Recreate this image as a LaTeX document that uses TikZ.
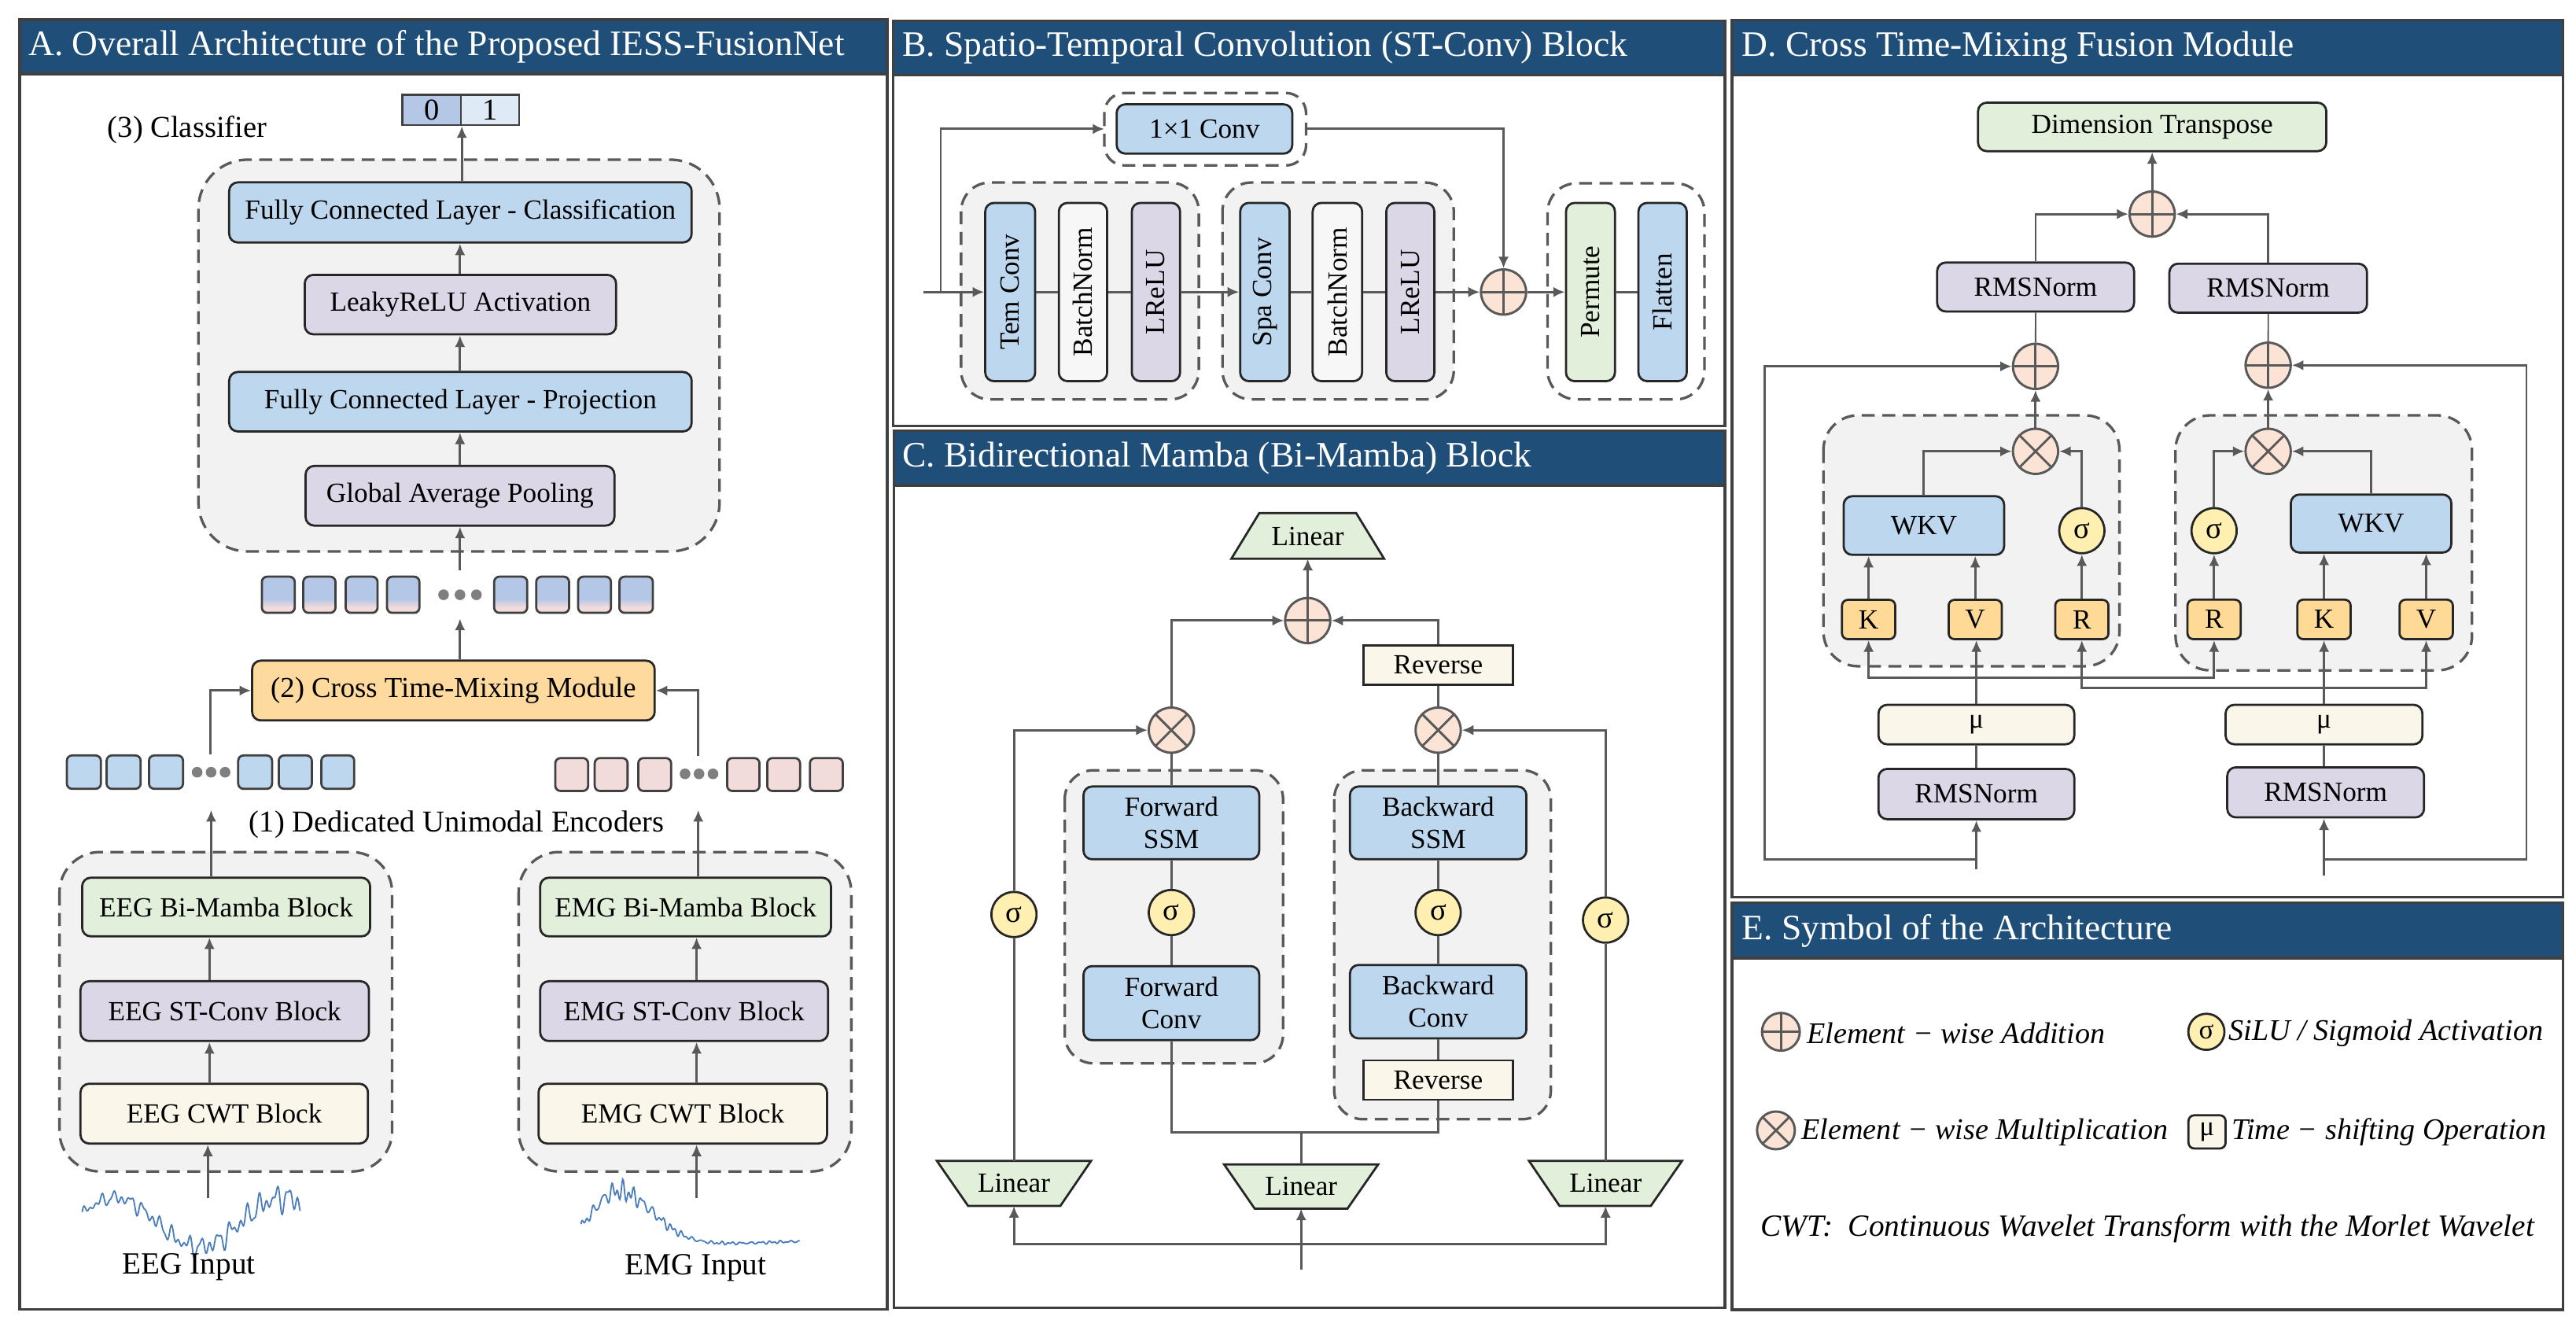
\documentclass[tikz,border=0pt]{standalone}
\usepackage{fontspec}
\setmainfont{Liberation Serif}
\usetikzlibrary{arrows.meta,calc}
\definecolor{hdrblue}{HTML}{1F4E79}
\definecolor{cblue}{HTML}{BDD7EE}
\definecolor{cblue2}{HTML}{B4C7E7}
\definecolor{cblue3}{HTML}{DEEBF7}
\definecolor{clav}{HTML}{DCD7E6}
\definecolor{cgreen}{HTML}{E2EFDA}
\definecolor{ccream}{HTML}{FAF6EA}
\definecolor{corange}{HTML}{FFDA9E}
\definecolor{ckvr}{HTML}{FFD996}
\definecolor{cpink}{HTML}{F2DCDB}
\definecolor{cpeach}{HTML}{FBE3D5}
\definecolor{csig}{HTML}{FFEFB0}
\definecolor{cgrayfill}{HTML}{F2F2F2}
\definecolor{carr}{HTML}{595959}
\definecolor{cline}{HTML}{262626}
\definecolor{cpanel}{HTML}{404040}
\definecolor{cwave}{HTML}{4A7EBB}
\definecolor{cdot}{HTML}{7F7F7F}
\definecolor{cbn}{HTML}{F7F7F7}
\pgfdeclareverticalshading{tokshade}{100bp}{color(0bp)=(cpink); color(25bp)=(cpink); color(33bp)=(cpink); color(44bp)=(cblue2); color(100bp)=(cblue2)}
\newcommand\bx[7]{%
  \pgfmathsetmacro\bxw{(#5-#3)*0.02}%
  \pgfmathsetmacro\bxh{(#6-#4)*0.02}%
  \node[#1,minimum width=\bxw cm,minimum height=\bxh cm,inner sep=0pt] (#2) at ({(#3+#5)/2},{(#4+#6)/2}) {#7};}
\begin{document}
\begin{tikzpicture}[x=0.02cm,y=-0.02cm,
  mf/.style={font=\fontsize{9.6}{11.2}\selectfont},
  blk/.style={draw=cline, line width=0.75pt, rounded corners=3pt, mf, align=center},
  cellst/.style={draw=cpanel, line width=0.7pt, font=\fontsize{10.5}{12}\selectfont},
  dbox/.style={draw=carr, line width=0.9pt, dash pattern=on 4.5pt off 2.6pt, fill=cgrayfill, rounded corners=12pt},
  arr/.style={draw=carr, line width=0.8pt, -{Latex[length=4pt,width=3.6pt]}},
  ln/.style={draw=carr, line width=0.8pt},
  panel/.style={draw=cpanel, line width=0.9pt},
  hdr/.style={draw=cpanel, line width=0.9pt, fill=hdrblue},
  hdrt/.style={text=white, font=\fontsize{12.4}{14}\selectfont, anchor=west, inner sep=0pt},
  lbl/.style={font=\fontsize{10.5}{12}\selectfont, inner sep=0pt},
  addop/.style={circle, draw=carr, fill=cpeach, line width=0.8pt, minimum size=0.55cm, inner sep=0pt,
    path picture={\draw[carr, line width=0.8pt] (path picture bounding box.north) -- (path picture bounding box.south) (path picture bounding box.west) -- (path picture bounding box.east);}},
  mulop/.style={circle, draw=carr, fill=cpeach, line width=0.8pt, minimum size=0.55cm, inner sep=0pt,
    path picture={\draw[carr, line width=0.8pt] ($(path picture bounding box.center)!0.7071!(path picture bounding box.north east)$) -- ($(path picture bounding box.center)!0.7071!(path picture bounding box.south west)$) ($(path picture bounding box.center)!0.7071!(path picture bounding box.north west)$) -- ($(path picture bounding box.center)!0.7071!(path picture bounding box.south east)$);}},
  sigc/.style={circle, draw=cline, fill=csig, line width=0.75pt, minimum size=0.55cm, inner sep=0pt, font=\fontsize{10.5}{12}\selectfont},
  tokb/.style={draw=cpanel, line width=0.75pt, rounded corners=1.8pt},
  legt/.style={font=\itshape\fontsize{10.4}{12}\selectfont, anchor=west, inner sep=0pt},
  trapz/.style={draw=cline, line width=0.75pt, fill=cgreen},
  wave/.style={draw=cwave, line width=0.5pt},
]
\useasboundingbox (0,0) rectangle (1568,810);

% ================= Panel A =================
\draw[panel] (12,12) rectangle (540,797);
\bx{hdr}{hA}{12}{12}{540}{45}{}
\node[hdrt] (tA) at (17,28.5) {A. Overall Architecture of the Proposed IESS-FusionNet};

\bx{cellst,fill=cblue2}{o0}{245}{57.8}{280.5}{76.2}{0}
\bx{cellst,fill=cblue3}{o1}{280.5}{57.8}{316}{76.2}{1}
\node[lbl] (lcls) at (114,79) {(3) Classifier};

\draw[dbox, rounded corners=17pt] (120.8,97.2) rectangle (438,335.6);
\bx{blk,fill=cblue}{fcc}{139.5}{111}{421}{147.6}{Fully Connected Layer - Classification}
\bx{blk,fill=clav}{lrelu}{185.5}{167.3}{375}{203.5}{LeakyReLU Activation}
\bx{blk,fill=cblue}{fcp}{139.5}{226.4}{421}{262.6}{Fully Connected Layer - Projection}
\bx{blk,fill=clav}{gap}{186}{283.6}{374}{319.9}{Global Average Pooling}
\coordinate (xc) at (280,0);
\draw[arr] (gap.north -| xc) -- (fcp.south -| xc);
\draw[arr] (fcp.north -| xc) -- (lrelu.south -| xc);
\draw[arr] (lrelu.north -| xc) -- (fcc.south -| xc);
\draw[arr] (fcc.north -| o0.east) -- (o0.south east);

% fused tokens
\foreach \a/\b [count=\i] in {159.4/179.4,184.6/204.2,210.4/229.8,235.6/255.3,300.8/320.9,326.4/346.4,351.9/371.9,377/397.4}{
  \bx{tokb,shade,shading=tokshade}{tf\i}{\a}{351}{\b}{373}{}
}
\foreach \x in {270,280,290}{\fill[cdot] (\x,362) circle[radius=0.065cm];}
\coordinate (tfTop) at (280,347);
\coordinate (tfBot) at (280,376.5);
\draw[arr] (tfTop) -- (gap.south -| tfTop);

\bx{blk,fill=corange,font=\fontsize{10}{12}\selectfont}{ctm}{153.5}{402.1}{398.5}{438.5}{(2) Cross Time-Mixing Module}
\draw[arr] (ctm.north -| tfBot) -- (tfBot);

% EEG / EMG tokens
\foreach \a/\b [count=\i] in {40.7/61.4,64.9/85.6,90.7/111.4,145/165.6,169.7/189.8,195.6/215.6}{
  \bx{tokb,fill=cblue}{te\i}{\a}{459.8}{\b}{480.1}{}
}
\foreach \x in {120,128.5,137}{\fill[cdot] (\x,470) circle[radius=0.065cm];}
\foreach \a/\b [count=\i] in {338/358,362/382,388.5/408.5,442.6/462.3,467/487,493/513}{
  \bx{tokb,fill=cpink}{tm\i}{\a}{461.4}{\b}{481.4}{}
}
\foreach \x in {417,425.5,434}{\fill[cdot] (\x,471) circle[radius=0.065cm];}
\coordinate (cEEG) at (128,459);
\coordinate (cEMG) at (425,460);
\draw[arr] (cEEG) |- (ctm.west);
\draw[arr] (cEMG) |- (ctm.east);

\node[lbl] (lenc) at (278,502) {(1) Dedicated Unimodal Encoders};

% EEG encoder
\draw[dbox, rounded corners=14pt] (36.2,518.6) rectangle (238.7,713);
\bx{blk,fill=cgreen}{eegbm}{50}{534.2}{225.3}{569.9}{EEG Bi-Mamba Block}
\bx{blk,fill=clav}{eegst}{49}{597.2}{224.6}{633.6}{EEG ST-Conv Block}
\bx{blk,fill=ccream}{eegcwt}{49}{659.6}{224}{696}{EEG CWT Block}
\coordinate (xE) at (127.5,0);
\coordinate (eegUp) at (128.5,493);
\coordinate (eegIn) at (126.5,729);
\draw[arr] (eegbm.north -| eegUp) -- (eegUp);
\draw[arr] (eegst.north -| xE) -- (eegbm.south -| xE);
\draw[arr] (eegcwt.north -| xE) -- (eegst.south -| xE);
\draw[arr] (eegIn) -- (eegcwt.south -| eegIn);
\draw[wave] plot[domain=0:1, samples=320] ({50+133*\x},{744-15*sin(468*\x+20)-(3+4.5*\x)*(0.6*sin(5400*\x)+0.5*sin(8100*\x+40)+0.4*sin(12500*\x+10))});
\node[lbl, font=\fontsize{10.7}{12}\selectfont] (lein) at (115,771) {EEG Input};

% EMG encoder
\draw[dbox, rounded corners=14pt] (315.7,518.6) rectangle (518.2,713);
\bx{blk,fill=cgreen}{emgbm}{328.8}{534.2}{505.8}{569.9}{EMG Bi-Mamba Block}
\bx{blk,fill=clav}{emgst}{328.8}{597.2}{504}{633.6}{EMG ST-Conv Block}
\bx{blk,fill=ccream}{emgcwt}{327.8}{659.6}{503.4}{696}{EMG CWT Block}
\coordinate (xM) at (424,0);
\coordinate (emgUp) at (425,493);
\coordinate (emgIn) at (424,729);
\draw[arr] (emgbm.north -| emgUp) -- (emgUp);
\draw[arr] (emgst.north -| xM) -- (emgbm.south -| xM);
\draw[arr] (emgcwt.north -| xM) -- (emgst.south -| xM);
\draw[arr] (emgIn) -- (emgcwt.south -| emgIn);
\draw[wave] plot[domain=0:0.168, samples=60] ({353.6+133.4*\x},{758-33*exp(-((\x-0.168)/0.165)*((\x-0.168)/0.165))-(5.2*exp(-((\x-0.168)/0.165)*((\x-0.168)/0.165))+0.8)*(0.6*sin(8000*\x)+0.4*sin(13500*\x+30)+0.3*sin(15100*\x+70))})
  -- plot[domain=0.168:1, samples=260] ({353.6+133.4*\x},{758-2.5*\x*\x-33*exp(-((\x-0.168)/0.225)*((\x-0.168)/0.225))-(5.2*exp(-((\x-0.168)/0.225)*((\x-0.168)/0.225))+0.8)*(0.6*sin(8000*\x)+0.4*sin(13500*\x+30)+0.3*sin(15100*\x+70))});
\node[lbl, font=\fontsize{10.7}{12}\selectfont] (lmin) at (423.5,771.5) {EMG Input};

% ================= Panel B =================
\draw[panel] (543.5,12.6) rectangle (1049.9,259.4);
\bx{hdr}{hB}{543.5}{12.6}{1049.9}{45.7}{}
\node[hdrt] (tB) at (549,29) {B. Spatio-Temporal Convolution (ST-Conv) Block};

\draw[dbox, fill=white, rounded corners=7pt] (672.2,56.6) rectangle (795,100.7);
\bx{blk,fill=cblue}{c11}{679.7}{63.5}{786.6}{93.5}{1×1 Conv}
\coordinate (d11w) at (672.2,78.5);
\coordinate (d11e) at (795,78.5);

\draw[dbox, rounded corners=10pt] (585,111.1) rectangle (729.7,243.1);
\bx{blk,fill=cblue}{tem}{599.7}{123.5}{630.1}{232}{}
\bx{blk,fill=cbn}{bn1}{644.5}{123.5}{673.9}{232}{}
\bx{blk,fill=clav}{lr1}{688.9}{123.5}{718.3}{232}{}
\node[mf, rotate=90] (ttem) at (tem.center) {Tem Conv};
\node[mf, rotate=90] (tbn1) at (bn1.center) {BatchNorm};
\node[mf, rotate=90] (tlr1) at (lr1.center) {LReLU};

\draw[dbox, rounded corners=10pt] (744.1,111.1) rectangle (884.9,243.1);
\bx{blk,fill=cblue}{spa}{754.9}{123.5}{785}{232}{}
\bx{blk,fill=cbn}{bn2}{799}{123.5}{829.1}{232}{}
\bx{blk,fill=clav}{lr2}{843.8}{123.5}{873.1}{232}{}
\node[mf, rotate=90] (tspa) at (spa.center) {Spa Conv};
\node[mf, rotate=90] (tbn2) at (bn2.center) {BatchNorm};
\node[mf, rotate=90] (tlr2) at (lr2.center) {LReLU};

\node[addop] (bplus) at (915.2,177.75) {};

\draw[dbox, fill=white, rounded corners=10pt] (942,111.6) rectangle (1037.5,243.1);
\bx{blk,fill=cgreen}{perm}{953.2}{123.5}{983}{232}{}
\bx{blk,fill=cblue}{flat}{997.3}{123.5}{1026.7}{232}{}
\node[mf, rotate=90] (tperm) at (perm.center) {Permute};
\node[mf, rotate=90] (tflat) at (flat.center) {Flatten};

\coordinate (bin) at (562,177.75);
\coordinate (bsplit) at (572.6,177.75);
\draw[arr] (bin) -- (tem.west);
\draw[arr] (bsplit) |- (d11w);
\draw[arr] (d11e) -| (bplus.north);
\draw[ln] (tem.east) -- (bn1.west);
\draw[ln] (bn1.east) -- (lr1.west);
\draw[arr] (lr1.east) -- (spa.west);
\draw[ln] (spa.east) -- (bn2.west);
\draw[ln] (bn2.east) -- (lr2.west);
\draw[arr] (lr2.east) -- (bplus.west);
\draw[arr] (bplus.east) -- (perm.west);
\draw[ln] (perm.east) -- (flat.west);

% ================= Panel C =================
\draw[panel] (544.2,262) rectangle (1049.9,795.9);
\bx{hdr}{hC}{544.2}{262}{1049.9}{295.4}{}
\node[hdrt] (tC) at (549,279) {C. Bidirectional Mamba (Bi-Mamba) Block};

\draw[trapz] (749.5,340.1) -- (842.5,340.1) -- (825.5,312.3) -- (766.5,312.3) -- cycle;
\node[mf] (linT) at (796,326.5) {Linear};
\coordinate (linTb) at (796,340.1);
\node[addop] (addC) at (796,377.7) {};
\draw[arr] (addC.north) -- (linTb);

\bx{blk,fill=ccream,rounded corners=0pt}{revT}{830}{392.8}{920.8}{416.8}{Reverse}
\node[mulop] (mulL) at (713,444.4) {};
\node[mulop] (mulR) at (875.4,444.4) {};
\draw[arr] (mulL.north) |- (addC.west);
\draw[arr] (revT.north) |- (addC.east);
\draw[ln] (mulR.north) -- (revT.south);

\draw[dbox, rounded corners=10pt] (648.1,468.8) rectangle (781,647.2);
\bx{blk,fill=cblue}{fssm}{659.5}{478.7}{766.5}{523}{Forward\\SSM}
\node[sigc] (sigF) at (713,555.4) {σ};
\bx{blk,fill=cblue}{fconv}{659.5}{588}{766.5}{633.1}{Forward\\Conv}
\draw[ln] (mulL.south) -- (fssm.north -| mulL);
\draw[ln] (fssm.south -| mulL) -- (sigF.north);
\draw[ln] (sigF.south) -- (fconv.north -| sigF);

\draw[dbox, rounded corners=10pt] (812.1,468.8) rectangle (944,681.2);
\bx{blk,fill=cblue}{bssm}{821.7}{478.7}{929.1}{523}{Backward\\SSM}
\node[sigc] (sigB) at (875.4,555.4) {σ};
\bx{blk,fill=cblue}{bconv}{821.7}{587.3}{929.1}{632}{Backward\\Conv}
\bx{blk,fill=ccream,rounded corners=0pt}{revB}{830}{645.4}{920.8}{669.3}{Reverse}
\draw[ln] (mulR.south) -- (bssm.north);
\draw[ln] (bssm.south) -- (sigB.north);
\draw[ln] (sigB.south) -- (bconv.north);
\draw[ln] (bconv.south) -- (revB.north);

\node[sigc] (sigCL) at (617.2,556.6) {σ};
\node[sigc] (sigCR) at (977.3,560) {σ};

\draw[trapz] (570.3,706.6) -- (664.1,706.6) -- (645.4,734) -- (589.3,734) -- cycle;
\node[mf] (linL) at (617.2,720.3) {Linear};
\draw[trapz] (745.1,708.7) -- (838.9,708.7) -- (820.2,735.6) -- (763.7,735.6) -- cycle;
\node[mf] (linC) at (792,722.2) {Linear};
\draw[trapz] (930.7,706.6) -- (1023.8,706.6) -- (1004.8,734) -- (949.3,734) -- cycle;
\node[mf] (linR) at (977.3,720.3) {Linear};
\coordinate (linLt) at (617.2,706.6);
\coordinate (linLb) at (617.2,734);
\coordinate (linCt) at (792,708.7);
\coordinate (linCb) at (792,735.6);
\coordinate (linRt) at (977.3,706.6);
\coordinate (linRb) at (977.3,734);

\draw[ln] (linLt) -- (sigCL.south);
\draw[arr] (sigCL.north) |- (mulL.west);
\draw[ln] (linRt) -- (sigCR.south);
\draw[arr] (sigCR.north) |- (mulR.east);

\coordinate (mrg) at (792,689.3);
\draw[ln] (fconv.south -| mulL) |- (mrg) -| (revB.south);
\draw[ln] (mrg) -- (linCt);

\coordinate (cin) at (792,772.7);
\coordinate (jC) at (792,757.2);
\draw[arr] (cin) -- (linCb);
\draw[arr] (jC) -| (linLb);
\draw[arr] (jC) -| (linRb);

% ================= Panel D =================
\draw[panel] (1054.3,12.3) rectangle (1560,546);
\bx{hdr}{hD}{1054.3}{12.3}{1560}{45.6}{}
\node[hdrt] (tD) at (1059.9,29) {D. Cross Time-Mixing Fusion Module};

\bx{blk,fill=cgreen}{dt}{1204}{62.5}{1416}{92}{Dimension Transpose}
\node[addop] (addD) at (1310,130.3) {};
\draw[arr] (addD.north) -- (dt.south);

\bx{blk,fill=clav}{rmsLt}{1179.1}{159.8}{1299}{189.6}{RMSNorm}
\bx{blk,fill=clav}{rmsRt}{1320.5}{160.5}{1440.8}{190.3}{RMSNorm}
\draw[arr] (rmsLt.north) |- (addD.west);
\draw[arr] (rmsRt.north) |- (addD.east);

\node[addop] (addL) at (1239,223) {};
\node[addop] (addR) at (1380.6,222.3) {};
\draw[ln, line width=0.5pt] (rmsLt.south) -- (addL.north);
\draw[ln, line width=0.5pt] (rmsRt.south) -- (addR.north);

\draw[dbox, rounded corners=12pt] (1109.9,252.8) rectangle (1290.1,405.5);
\draw[dbox, rounded corners=12pt] (1324.2,252.8) rectangle (1504.7,408);

\node[mulop] (mulDL) at (1239,274.7) {};
\node[mulop] (mulDR) at (1380.6,274.7) {};
\draw[arr] (mulDL.north) -- (addL.south);
\draw[arr] (mulDR.north) -- (addR.south);

\bx{blk,fill=cblue}{wkvL}{1122.2}{302}{1219.9}{337.7}{WKV}
\node[sigc] (sigDL) at (1267.2,323) {σ};
\bx{blk,fill=cblue}{wkvR}{1394.4}{301}{1492.1}{336.3}{WKV}
\node[sigc] (sigDR) at (1347.7,323) {σ};
\draw[arr] (wkvL.north) |- (mulDL.west);
\draw[arr] (sigDL.north) |- (mulDL.east);
\draw[arr] (sigDR.north) |- (mulDR.west);
\draw[arr] (wkvR.north) |- (mulDR.east);

\bx{blk,fill=ckvr,rounded corners=2pt}{KL}{1121.2}{365.1}{1153.6}{389}{K}
\bx{blk,fill=ckvr,rounded corners=2pt}{VL}{1186.1}{365.1}{1218.5}{389}{V}
\bx{blk,fill=ckvr,rounded corners=2pt}{RL}{1251}{365.1}{1283.4}{389}{R}
\bx{blk,fill=ckvr,rounded corners=2pt}{RR}{1331.5}{365}{1363.9}{389}{R}
\bx{blk,fill=ckvr,rounded corners=2pt}{KR}{1398.4}{365}{1430.8}{389}{K}
\bx{blk,fill=ckvr,rounded corners=2pt}{VR}{1460.6}{365}{1493}{389}{V}
\draw[arr] (KL.north) -- (KL.north |- wkvL.south);
\draw[arr] (VL.north) -- (VL.north |- wkvL.south);
\draw[arr] (RL.north) -- (sigDL.south);
\draw[arr] (RR.north) -- (sigDR.south);
\draw[arr] (KR.north) -- (KR.north |- wkvR.south);
\draw[arr] (VR.north) -- (VR.north |- wkvR.south);

\bx{blk,fill=ccream}{muL}{1143.4}{429}{1262.6}{453}{μ}
\bx{blk,fill=clav}{rmsLb}{1143.4}{468}{1262.6}{498.6}{RMSNorm}
\bx{blk,fill=ccream}{muR}{1354.7}{429}{1474.5}{453}{μ}
\bx{blk,fill=clav}{rmsRb}{1355.7}{467}{1475.5}{497.5}{RMSNorm}

\coordinate (jL) at (1203,412.5);
\coordinate (jR) at (1414.6,418.9);
\draw[ln] (rmsLb.north -| jL) -- (muL.south -| jL);
\draw[ln] (rmsRb.north -| jR) -- (muR.south -| jR);
\draw[arr] (muL.north -| jL) -- (VL.south -| jL);
\draw[arr] (muR.north -| jR) -- (KR.south -| jR);
\draw[arr] (jL) -| (KL.south);
\draw[arr] (jL) -| (RR.south);
\draw[arr] (jR) -| (RL.south);
\draw[arr] (jR) -| (VR.south);

\coordinate (inDL) at (1203,529);
\coordinate (inDR) at (1414.6,533);
\coordinate (rinL) at (1203,523.1);
\coordinate (rinR) at (1414.6,523.1);
\coordinate (cornL) at (1074.1,523.1);
\coordinate (cornR) at (1537.8,523.1);
\draw[arr] (inDL) -- (rmsLb.south -| inDL);
\draw[arr] (inDR) -- (rmsRb.south -| inDR);
\draw[arr] (rinL) -- (cornL) |- (addL.west);
\draw[arr] (rinR) -- (cornR) |- (addR.east);

% ================= Panel E =================
\draw[panel] (1054.3,549.4) rectangle (1560,797.1);
\bx{hdr}{hE}{1054.3}{549.4}{1560}{583.1}{}
\node[hdrt] (tE) at (1059.9,566.5) {E. Symbol of the Architecture};

\node[addop, minimum size=0.46cm] (eadd) at (1084,628) {};
\node[legt] (tadd) at (1099.6,629) {Element − wise Addition};
\node[sigc, minimum size=0.44cm, font=\fontsize{9.5}{11}\selectfont] (esig) at (1343,628) {σ};
\node[legt] (tsig) at (1356.3,629) {SiLU / Sigmoid Activation};
\node[mulop, minimum size=0.46cm] (emul) at (1081,688) {};
\node[legt] (tmul) at (1096.3,689) {Element − wise Multiplication};
\bx{blk,fill=ccream,rounded corners=2pt}{emu}{1332.1}{678.8}{1354.7}{699}{μ}
\node[legt] (tmu) at (1358,689) {Time − shifting Operation};
\node[legt, font=\itshape\fontsize{10.7}{12}\selectfont] (tcwt) at (1071.5,748) {CWT:\ \ Continuous Wavelet Transform with the Morlet Wavelet};
\end{tikzpicture}
\end{document}
